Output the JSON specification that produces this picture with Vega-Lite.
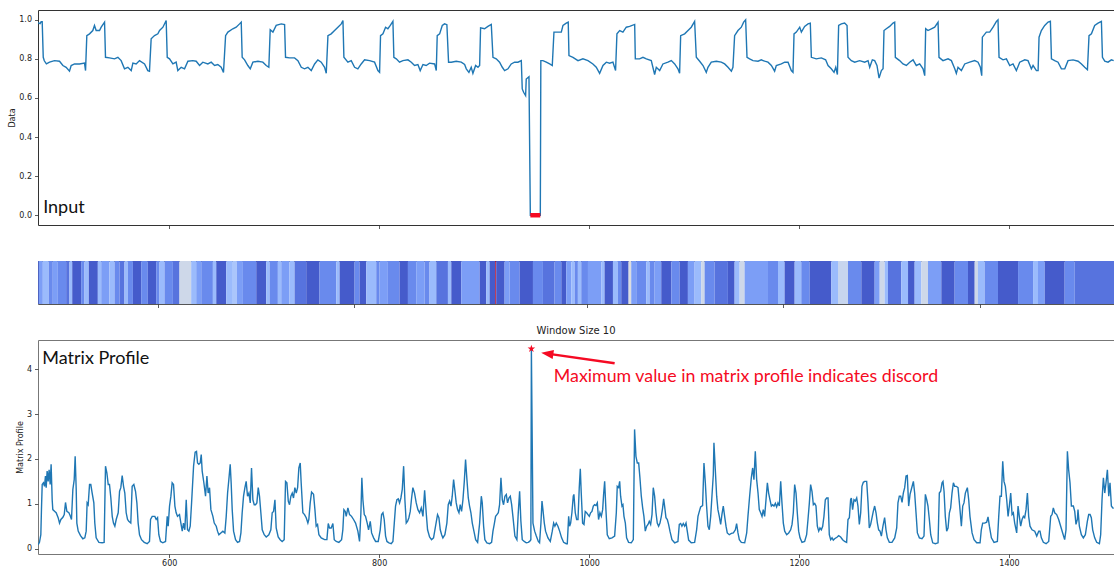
{
  "$schema": "https://vega.github.io/schema/vega-lite/v6.json",
  "background": "white",
  "padding": {"left": 8, "top": 9, "right": 0, "bottom": 0},
  "bounds": "flush",
  "spacing": 36,
  "config": {
    "view": {"stroke": "#333", "strokeWidth": 1},
    "axis": {"labelFont": "DejaVu Sans", "labelFontSize": 8, "labelColor": "#222", "titleFont": "DejaVu Sans", "titleFontSize": 8, "titleFontWeight": "normal", "titleColor": "#222", "tickColor": "#333", "tickSize": 3.5, "tickWidth": 0.8, "labelPadding": 2, "grid": false, "domain": false},
    "title": {"font": "DejaVu Sans", "fontSize": 10, "fontWeight": "normal", "color": "#222", "offset": 4}
  },
  "datasets": {
    "input": [
      {"idx":475,"data":0.985},{"idx":477,"data":0.98},{"idx":478,"data":0.99},{"idx":479,"data":0.99},{"idx":480,"data":0.808},{"idx":481,"data":0.79},{"idx":483,"data":0.774},{"idx":486,"data":0.783},{"idx":490.7,"data":0.791},{"idx":495.5,"data":0.788},{"idx":498.7,"data":0.766},{"idx":501.8,"data":0.757},{"idx":505,"data":0.737},{"idx":506.6,"data":0.766},{"idx":509.8,"data":0.774},{"idx":514.5,"data":0.774},{"idx":519.3,"data":0.778},{"idx":520.3,"data":0.74},{"idx":521.5,"data":0.919},{"idx":524.1,"data":0.928},{"idx":527.2,"data":0.945},{"idx":528.8,"data":0.971},{"idx":530.4,"data":0.945},{"idx":533.6,"data":0.945},{"idx":535.2,"data":0.962},{"idx":538.4,"data":0.988},{"idx":539.3,"data":0.808},{"idx":543.1,"data":0.805},{"idx":547.9,"data":0.8},{"idx":551.1,"data":0.808},{"idx":554.2,"data":0.791},{"idx":557.4,"data":0.749},{"idx":560.6,"data":0.757},{"idx":563.8,"data":0.74},{"idx":565.4,"data":0.778},{"idx":568.5,"data":0.774},{"idx":571.7,"data":0.791},{"idx":576.5,"data":0.774},{"idx":579.6,"data":0.74},{"idx":581.2,"data":0.737},{"idx":582.8,"data":0.903},{"idx":586,"data":0.919},{"idx":589.2,"data":0.928},{"idx":590.8,"data":0.945},{"idx":594,"data":0.962},{"idx":597.1,"data":0.996},{"idx":598.1,"data":0.808},{"idx":600.3,"data":0.8},{"idx":603.5,"data":0.774},{"idx":606.6,"data":0.783},{"idx":608.2,"data":0.74},{"idx":611.4,"data":0.757},{"idx":614.6,"data":0.749},{"idx":617.8,"data":0.788},{"idx":622.5,"data":0.791},{"idx":625.7,"data":0.788},{"idx":628.9,"data":0.766},{"idx":632,"data":0.783},{"idx":636.8,"data":0.774},{"idx":640,"data":0.783},{"idx":643.2,"data":0.766},{"idx":646.3,"data":0.771},{"idx":649.5,"data":0.757},{"idx":651.7,"data":0.731},{"idx":653.7,"data":0.919},{"idx":655.9,"data":0.937},{"idx":660.6,"data":0.954},{"idx":663.8,"data":0.962},{"idx":667,"data":0.979},{"idx":668.6,"data":0.988},{"idx":669.5,"data":0.808},{"idx":671.8,"data":0.795},{"idx":674.9,"data":0.766},{"idx":677.2,"data":0.749},{"idx":679.7,"data":0.783},{"idx":684.5,"data":0.788},{"idx":689.2,"data":0.783},{"idx":692.4,"data":0.766},{"idx":694.9,"data":0.757},{"idx":696.2,"data":0.949},{"idx":698.8,"data":0.937},{"idx":701.9,"data":0.971},{"idx":706.7,"data":0.979},{"idx":709.9,"data":0.975},{"idx":710.8,"data":0.808},{"idx":714.6,"data":0.805},{"idx":719.4,"data":0.805},{"idx":722.6,"data":0.791},{"idx":725.8,"data":0.757},{"idx":728.9,"data":0.749},{"idx":732.1,"data":0.757},{"idx":735.3,"data":0.74},{"idx":738.5,"data":0.774},{"idx":741.6,"data":0.795},{"idx":744.8,"data":0.783},{"idx":748,"data":0.757},{"idx":749.6,"data":0.726},{"idx":751.2,"data":0.919},{"idx":754.3,"data":0.928},{"idx":757.5,"data":0.945},{"idx":760.7,"data":0.962},{"idx":763.9,"data":0.979},{"idx":765.5,"data":0.996},{"idx":766.4,"data":0.808},{"idx":770.2,"data":0.783},{"idx":773.4,"data":0.791},{"idx":776.6,"data":0.757},{"idx":779.7,"data":0.749},{"idx":782.9,"data":0.774},{"idx":786.1,"data":0.795},{"idx":790.9,"data":0.791},{"idx":795.6,"data":0.783},{"idx":798.8,"data":0.74},{"idx":800.4,"data":0.731},{"idx":801.3,"data":0.919},{"idx":803.6,"data":0.928},{"idx":806.1,"data":0.962},{"idx":808.3,"data":0.954},{"idx":810.6,"data":0.971},{"idx":813.1,"data":0.992},{"idx":814,"data":0.808},{"idx":816.3,"data":0.8},{"idx":819.4,"data":0.783},{"idx":822.6,"data":0.791},{"idx":827.4,"data":0.795},{"idx":830.6,"data":0.783},{"idx":833.7,"data":0.766},{"idx":836.9,"data":0.771},{"idx":839.1,"data":0.74},{"idx":841.7,"data":0.771},{"idx":844.8,"data":0.766},{"idx":848,"data":0.778},{"idx":852.8,"data":0.774},{"idx":854.4,"data":0.74},{"idx":855.3,"data":0.919},{"idx":857.6,"data":0.928},{"idx":860.1,"data":0.971},{"idx":862.3,"data":0.979},{"idx":864.5,"data":0.975},{"idx":866.1,"data":0.783},{"idx":868.7,"data":0.783},{"idx":873.4,"data":0.788},{"idx":878.2,"data":0.783},{"idx":881.4,"data":0.771},{"idx":883,"data":0.749},{"idx":885.5,"data":0.731},{"idx":887.7,"data":0.757},{"idx":889.3,"data":0.726},{"idx":891.9,"data":0.766},{"idx":894.1,"data":0.757},{"idx":895.7,"data":0.766},{"idx":896.6,"data":0.959},{"idx":900.4,"data":0.954},{"idx":903.6,"data":0.966},{"idx":906.8,"data":0.976},{"idx":908.4,"data":0.808},{"idx":911.5,"data":0.8},{"idx":914.7,"data":0.783},{"idx":917.3,"data":0.757},{"idx":919.5,"data":0.74},{"idx":922.7,"data":0.749},{"idx":925.8,"data":0.774},{"idx":929,"data":0.783},{"idx":932.2,"data":0.783},{"idx":935.4,"data":0.791},{"idx":936.3,"data":0.646},{"idx":937.6,"data":0.629},{"idx":939.5,"data":0.612},{"idx":940.1,"data":0.697},{"idx":942.7,"data":0.709},{"idx":944,"data":0},{"idx":953.5,"data":0},{"idx":954,"data":0.791},{"idx":956,"data":0.791},{"idx":959.2,"data":0.783},{"idx":962.4,"data":0.774},{"idx":964.9,"data":0.766},{"idx":966.5,"data":0.937},{"idx":968.7,"data":0.937},{"idx":973.5,"data":0.937},{"idx":975.1,"data":0.971},{"idx":978.2,"data":0.983},{"idx":980.1,"data":0.988},{"idx":980.8,"data":0.817},{"idx":984.6,"data":0.808},{"idx":989.4,"data":0.791},{"idx":994.1,"data":0.8},{"idx":998.9,"data":0.791},{"idx":1003.6,"data":0.774},{"idx":1006.8,"data":0.757},{"idx":1010,"data":0.726},{"idx":1013.2,"data":0.766},{"idx":1016.4,"data":0.783},{"idx":1019.5,"data":0.778},{"idx":1022.7,"data":0.783},{"idx":1025.2,"data":0.74},{"idx":1026.5,"data":0.928},{"idx":1029.1,"data":0.945},{"idx":1032.2,"data":0.937},{"idx":1035.4,"data":0.962},{"idx":1038.6,"data":0.966},{"idx":1043.4,"data":0.976},{"idx":1044,"data":0.8},{"idx":1048.1,"data":0.8},{"idx":1051.3,"data":0.808},{"idx":1054.5,"data":0.8},{"idx":1059.2,"data":0.791},{"idx":1062.4,"data":0.72},{"idx":1064,"data":0.757},{"idx":1067.2,"data":0.74},{"idx":1070.3,"data":0.774},{"idx":1075.1,"data":0.783},{"idx":1078.3,"data":0.791},{"idx":1081.5,"data":0.774},{"idx":1084.6,"data":0.749},{"idx":1086.2,"data":0.726},{"idx":1087.2,"data":0.919},{"idx":1091,"data":0.928},{"idx":1094.2,"data":0.945},{"idx":1097.3,"data":0.962},{"idx":1100.5,"data":0.992},{"idx":1102.1,"data":0.808},{"idx":1105.3,"data":0.788},{"idx":1108.5,"data":0.766},{"idx":1111.6,"data":0.731},{"idx":1113.2,"data":0.757},{"idx":1116.4,"data":0.783},{"idx":1121.2,"data":0.788},{"idx":1125.9,"data":0.783},{"idx":1129.1,"data":0.774},{"idx":1132.3,"data":0.757},{"idx":1135.5,"data":0.737},{"idx":1137,"data":0.757},{"idx":1138.6,"data":0.919},{"idx":1141.8,"data":0.945},{"idx":1145,"data":0.962},{"idx":1147.2,"data":0.988},{"idx":1149.1,"data":1.0},{"idx":1150.4,"data":0.808},{"idx":1152.9,"data":0.8},{"idx":1156.1,"data":0.791},{"idx":1160.9,"data":0.788},{"idx":1164,"data":0.795},{"idx":1167.2,"data":0.788},{"idx":1170.4,"data":0.783},{"idx":1173.6,"data":0.766},{"idx":1176.7,"data":0.737},{"idx":1178.3,"data":0.766},{"idx":1183.1,"data":0.774},{"idx":1186.3,"data":0.783},{"idx":1189.5,"data":0.783},{"idx":1192.6,"data":0.74},{"idx":1194.2,"data":0.731},{"idx":1195.2,"data":0.928},{"idx":1197.4,"data":0.937},{"idx":1200.6,"data":0.962},{"idx":1202.2,"data":0.937},{"idx":1205.3,"data":0.966},{"idx":1208.5,"data":0.979},{"idx":1210.7,"data":0.983},{"idx":1211.7,"data":0.808},{"idx":1216.4,"data":0.8},{"idx":1221.2,"data":0.805},{"idx":1225.3,"data":0.795},{"idx":1227.6,"data":0.766},{"idx":1230.7,"data":0.749},{"idx":1233.3,"data":0.731},{"idx":1234.9,"data":0.757},{"idx":1236.5,"data":0.72},{"idx":1237.7,"data":0.971},{"idx":1240.3,"data":0.979},{"idx":1243.4,"data":0.983},{"idx":1245.7,"data":0.971},{"idx":1246.6,"data":0.808},{"idx":1249.8,"data":0.791},{"idx":1253,"data":0.783},{"idx":1257.7,"data":0.791},{"idx":1262.5,"data":0.783},{"idx":1265.7,"data":0.791},{"idx":1267.3,"data":0.757},{"idx":1269.8,"data":0.795},{"idx":1272,"data":0.791},{"idx":1274.2,"data":0.766},{"idx":1276.2,"data":0.702},{"idx":1278.4,"data":0.74},{"idx":1280,"data":0.749},{"idx":1280.9,"data":0.945},{"idx":1283.1,"data":0.954},{"idx":1286.3,"data":0.966},{"idx":1289.5,"data":0.983},{"idx":1291.1,"data":0.988},{"idx":1291.7,"data":0.808},{"idx":1295.8,"data":0.791},{"idx":1299,"data":0.774},{"idx":1302.2,"data":0.766},{"idx":1305.4,"data":0.783},{"idx":1308.6,"data":0.795},{"idx":1311.7,"data":0.766},{"idx":1314.9,"data":0.774},{"idx":1318.1,"data":0.749},{"idx":1319.7,"data":0.714},{"idx":1320.6,"data":0.954},{"idx":1322.8,"data":0.945},{"idx":1326,"data":0.954},{"idx":1329.2,"data":0.962},{"idx":1332.4,"data":0.988},{"idx":1333.3,"data":0.808},{"idx":1337.1,"data":0.791},{"idx":1341.9,"data":0.8},{"idx":1345.1,"data":0.791},{"idx":1348.3,"data":0.749},{"idx":1349.8,"data":0.726},{"idx":1351.4,"data":0.757},{"idx":1354.6,"data":0.74},{"idx":1357.8,"data":0.774},{"idx":1362.5,"data":0.783},{"idx":1367.3,"data":0.791},{"idx":1370.5,"data":0.783},{"idx":1372.7,"data":0.757},{"idx":1374,"data":0.714},{"idx":1374.6,"data":0.911},{"idx":1378.4,"data":0.937},{"idx":1381.6,"data":0.937},{"idx":1384.8,"data":0.962},{"idx":1388,"data":0.992},{"idx":1389.5,"data":1.0},{"idx":1390.5,"data":0.808},{"idx":1394.3,"data":0.795},{"idx":1397.5,"data":0.8},{"idx":1400.7,"data":0.766},{"idx":1403.8,"data":0.774},{"idx":1407,"data":0.74},{"idx":1410.2,"data":0.783},{"idx":1415,"data":0.795},{"idx":1418.1,"data":0.791},{"idx":1421.3,"data":0.749},{"idx":1422.9,"data":0.766},{"idx":1426.1,"data":0.74},{"idx":1427.7,"data":0.74},{"idx":1428.6,"data":0.911},{"idx":1430.8,"data":0.945},{"idx":1434,"data":0.971},{"idx":1437.2,"data":0.988},{"idx":1439.4,"data":0.992},{"idx":1440.4,"data":0.8},{"idx":1443.5,"data":0.791},{"idx":1446.7,"data":0.783},{"idx":1449.9,"data":0.749},{"idx":1453.1,"data":0.749},{"idx":1456.2,"data":0.791},{"idx":1461,"data":0.795},{"idx":1465.8,"data":0.788},{"idx":1469,"data":0.774},{"idx":1472.1,"data":0.757},{"idx":1474.7,"data":0.744},{"idx":1476.2,"data":0.919},{"idx":1478.5,"data":0.928},{"idx":1481.6,"data":0.971},{"idx":1484.8,"data":0.983},{"idx":1488,"data":0.992},{"idx":1489,"data":0.808},{"idx":1491.2,"data":0.788},{"idx":1494.3,"data":0.783},{"idx":1497.5,"data":0.795},{"idx":1499.7,"data":0.791}
    ],
    "discord": [{"idx":944,"data":0},{"idx":953.5,"data":0}],
    "mp": [
      {"idx":475.2,"mp":0.09},{"idx":476.4,"mp":0.14},{"idx":477.7,"mp":0.31},{"idx":478.3,"mp":0.87},{"idx":479,"mp":1.43},{"idx":480.2,"mp":1.47},{"idx":481.2,"mp":1.39},{"idx":482.1,"mp":1.62},{"idx":482.8,"mp":1.36},{"idx":483.7,"mp":1.73},{"idx":484.7,"mp":1.5},{"idx":485.6,"mp":1.76},{"idx":486.6,"mp":1.43},{"idx":487.5,"mp":1.88},{"idx":488.5,"mp":1.09},{"idx":489.1,"mp":0.87},{"idx":491,"mp":0.83},{"idx":492.3,"mp":0.8},{"idx":494.2,"mp":0.69},{"idx":495.5,"mp":0.57},{"idx":496.8,"mp":0.65},{"idx":498.7,"mp":0.7},{"idx":500,"mp":0.76},{"idx":501.2,"mp":1.03},{"idx":502.5,"mp":0.83},{"idx":504.4,"mp":0.8},{"idx":505.6,"mp":0.74},{"idx":506.9,"mp":0.65},{"idx":508.2,"mp":1.32},{"idx":509.5,"mp":1.54},{"idx":510.4,"mp":2.06},{"idx":511.4,"mp":1.32},{"idx":512,"mp":0.57},{"idx":513.3,"mp":0.39},{"idx":515.5,"mp":0.29},{"idx":517.7,"mp":0.22},{"idx":519.6,"mp":0.24},{"idx":520.9,"mp":0.39},{"idx":521.8,"mp":1.02},{"idx":522.8,"mp":0.98},{"idx":524.1,"mp":1.43},{"idx":525.3,"mp":1.43},{"idx":526.6,"mp":1.24},{"idx":528.2,"mp":1.02},{"idx":529.1,"mp":0.57},{"idx":530.4,"mp":0.24},{"idx":533,"mp":0.14},{"idx":536.1,"mp":0.13},{"idx":538,"mp":0.14},{"idx":539.3,"mp":1.84},{"idx":540.6,"mp":1.69},{"idx":541.9,"mp":1.43},{"idx":543.1,"mp":1.43},{"idx":544.4,"mp":1.13},{"idx":545.7,"mp":0.72},{"idx":546.9,"mp":0.57},{"idx":548.2,"mp":0.5},{"idx":549.5,"mp":0.65},{"idx":551.4,"mp":0.8},{"idx":552.7,"mp":1.28},{"idx":553.9,"mp":1.36},{"idx":555.2,"mp":1.63},{"idx":556.5,"mp":1.39},{"idx":557.7,"mp":1.24},{"idx":559,"mp":0.8},{"idx":560.3,"mp":0.65},{"idx":561.5,"mp":0.61},{"idx":563.4,"mp":0.57},{"idx":564.7,"mp":1.39},{"idx":566.3,"mp":1.43},{"idx":567.9,"mp":1.28},{"idx":569.2,"mp":1.02},{"idx":570.4,"mp":0.57},{"idx":571.7,"mp":0.31},{"idx":573.6,"mp":0.2},{"idx":576.2,"mp":0.14},{"idx":579,"mp":0.11},{"idx":581.2,"mp":0.16},{"idx":582.2,"mp":0.65},{"idx":583.8,"mp":0.72},{"idx":586.3,"mp":0.72},{"idx":587.6,"mp":0.65},{"idx":588.9,"mp":0.69},{"idx":590.1,"mp":0.31},{"idx":591.7,"mp":0.16},{"idx":593.9,"mp":0.13},{"idx":596.5,"mp":0.16},{"idx":598.1,"mp":0.72},{"idx":599,"mp":0.5},{"idx":600.3,"mp":0.95},{"idx":601.6,"mp":1.17},{"idx":602.8,"mp":1.47},{"idx":604.1,"mp":1.43},{"idx":605.4,"mp":0.95},{"idx":606.6,"mp":0.8},{"idx":607.9,"mp":0.72},{"idx":609.8,"mp":0.76},{"idx":611.1,"mp":0.57},{"idx":612.4,"mp":0.39},{"idx":613.6,"mp":0.57},{"idx":614.9,"mp":0.42},{"idx":616.2,"mp":1.09},{"idx":617.4,"mp":0.42},{"idx":618.7,"mp":0.39},{"idx":620,"mp":0.5},{"idx":621.3,"mp":1.02},{"idx":623.2,"mp":1.84},{"idx":624.7,"mp":2.15},{"idx":626,"mp":2.17},{"idx":627,"mp":1.91},{"idx":628.2,"mp":1.88},{"idx":629.5,"mp":1.91},{"idx":630.5,"mp":2.1},{"idx":631.4,"mp":1.73},{"idx":633,"mp":1.47},{"idx":634.6,"mp":1.17},{"idx":635.9,"mp":1.62},{"idx":637.1,"mp":1.24},{"idx":638.4,"mp":1.36},{"idx":639.7,"mp":0.87},{"idx":641.6,"mp":0.72},{"idx":642.9,"mp":0.57},{"idx":644.8,"mp":0.5},{"idx":646,"mp":0.39},{"idx":647.3,"mp":0.31},{"idx":649.2,"mp":0.35},{"idx":651.1,"mp":0.39},{"idx":653,"mp":0.35},{"idx":654.3,"mp":0.72},{"idx":655.6,"mp":1.24},{"idx":656.8,"mp":1.54},{"idx":658.1,"mp":1.88},{"idx":659,"mp":1.47},{"idx":660,"mp":0.87},{"idx":661.3,"mp":0.39},{"idx":663.2,"mp":0.2},{"idx":665.1,"mp":0.14},{"idx":667,"mp":0.16},{"idx":668.3,"mp":0.35},{"idx":669.5,"mp":0.8},{"idx":670.8,"mp":1.17},{"idx":672.1,"mp":1.36},{"idx":673.3,"mp":1.5},{"idx":674.6,"mp":1.17},{"idx":675.9,"mp":1.24},{"idx":677.2,"mp":1.02},{"idx":678.4,"mp":1.8},{"idx":679.7,"mp":1.09},{"idx":681,"mp":0.98},{"idx":682.2,"mp":0.98},{"idx":683.5,"mp":1.02},{"idx":684.8,"mp":1.36},{"idx":686,"mp":1.17},{"idx":687.3,"mp":0.8},{"idx":688.6,"mp":0.42},{"idx":690.5,"mp":0.31},{"idx":692.4,"mp":0.26},{"idx":694.9,"mp":0.31},{"idx":696.8,"mp":0.42},{"idx":698.1,"mp":0.8},{"idx":699.4,"mp":0.83},{"idx":700.7,"mp":1.09},{"idx":701.9,"mp":0.46},{"idx":703.8,"mp":0.26},{"idx":705.7,"mp":0.2},{"idx":707.6,"mp":0.16},{"idx":709.5,"mp":0.2},{"idx":710.8,"mp":1.5},{"idx":712.1,"mp":1.47},{"idx":713.4,"mp":1.06},{"idx":714.6,"mp":0.98},{"idx":715.9,"mp":1.17},{"idx":717.2,"mp":1.24},{"idx":718.4,"mp":1.13},{"idx":719.7,"mp":1.36},{"idx":721,"mp":1.24},{"idx":722.3,"mp":1.36},{"idx":723.5,"mp":1.8},{"idx":724.8,"mp":1.91},{"idx":725.7,"mp":1.47},{"idx":727.3,"mp":0.8},{"idx":728.9,"mp":0.76},{"idx":730.5,"mp":0.69},{"idx":732.1,"mp":0.57},{"idx":733,"mp":0.65},{"idx":734.3,"mp":1.02},{"idx":735.6,"mp":1.26},{"idx":737.5,"mp":1.21},{"idx":738.8,"mp":0.87},{"idx":740,"mp":0.5},{"idx":741.3,"mp":0.54},{"idx":742.6,"mp":0.31},{"idx":744.8,"mp":0.24},{"idx":748,"mp":0.2},{"idx":750.2,"mp":0.2},{"idx":751.5,"mp":0.56},{"idx":752.7,"mp":0.46},{"idx":754.3,"mp":0.46},{"idx":755.9,"mp":0.56},{"idx":757.2,"mp":0.2},{"idx":759.1,"mp":0.16},{"idx":761.6,"mp":0.14},{"idx":764.2,"mp":0.2},{"idx":765.4,"mp":0.42},{"idx":766.4,"mp":0.87},{"idx":767.7,"mp":0.83},{"idx":768.6,"mp":0.72},{"idx":770.2,"mp":0.91},{"idx":771.8,"mp":0.76},{"idx":773.7,"mp":0.72},{"idx":775.6,"mp":0.65},{"idx":777.5,"mp":0.57},{"idx":779.7,"mp":0.39},{"idx":781.3,"mp":0.16},{"idx":782.6,"mp":0.8},{"idx":783.5,"mp":1.58},{"idx":784.5,"mp":1.09},{"idx":785.8,"mp":0.76},{"idx":787,"mp":0.72},{"idx":788.6,"mp":0.57},{"idx":789.9,"mp":0.42},{"idx":791.5,"mp":0.61},{"idx":792.8,"mp":0.35},{"idx":794.7,"mp":0.24},{"idx":796.6,"mp":0.16},{"idx":799.1,"mp":0.16},{"idx":801,"mp":0.42},{"idx":802.3,"mp":0.76},{"idx":803.6,"mp":0.8},{"idx":804.8,"mp":0.65},{"idx":806.1,"mp":0.28},{"idx":807.4,"mp":0.16},{"idx":809.3,"mp":0.13},{"idx":811.5,"mp":0.11},{"idx":813.1,"mp":0.16},{"idx":814.4,"mp":0.57},{"idx":815.6,"mp":0.95},{"idx":816.9,"mp":1.09},{"idx":818.2,"mp":1.11},{"idx":819.4,"mp":1.02},{"idx":820.7,"mp":1.13},{"idx":822,"mp":1.32},{"idx":823.3,"mp":1.84},{"idx":824.5,"mp":1.09},{"idx":825.8,"mp":0.57},{"idx":827.1,"mp":0.61},{"idx":828.3,"mp":0.69},{"idx":829.6,"mp":0.83},{"idx":830.9,"mp":1.13},{"idx":832.1,"mp":1.36},{"idx":833.7,"mp":1.24},{"idx":835.3,"mp":1.02},{"idx":836.9,"mp":0.87},{"idx":838.5,"mp":0.8},{"idx":840.1,"mp":0.91},{"idx":841.7,"mp":0.72},{"idx":843.3,"mp":1.3},{"idx":844.8,"mp":0.8},{"idx":846.1,"mp":0.42},{"idx":848,"mp":0.26},{"idx":849.9,"mp":0.2},{"idx":851.8,"mp":0.24},{"idx":853.7,"mp":0.5},{"idx":855.6,"mp":0.76},{"idx":856.9,"mp":0.69},{"idx":858.2,"mp":0.42},{"idx":859.5,"mp":0.31},{"idx":860.7,"mp":0.24},{"idx":862.6,"mp":0.31},{"idx":864.5,"mp":0.57},{"idx":865.8,"mp":0.98},{"idx":867.1,"mp":1.06},{"idx":868.4,"mp":0.95},{"idx":869.6,"mp":1.17},{"idx":870.9,"mp":1.54},{"idx":872.2,"mp":1.28},{"idx":873.4,"mp":1.02},{"idx":874.7,"mp":0.87},{"idx":876,"mp":0.8},{"idx":877.2,"mp":0.98},{"idx":878.5,"mp":0.83},{"idx":879.8,"mp":1.09},{"idx":881.1,"mp":1.5},{"idx":882.3,"mp":1.99},{"idx":883.6,"mp":1.54},{"idx":884.9,"mp":1.13},{"idx":886.1,"mp":0.95},{"idx":887.4,"mp":0.8},{"idx":888.7,"mp":0.57},{"idx":890.6,"mp":0.35},{"idx":891.9,"mp":0.2},{"idx":893.8,"mp":0.14},{"idx":895.7,"mp":0.57},{"idx":897.3,"mp":1.17},{"idx":898.2,"mp":1.02},{"idx":899.5,"mp":0.5},{"idx":900.7,"mp":0.2},{"idx":902.6,"mp":0.13},{"idx":905.2,"mp":0.11},{"idx":907.1,"mp":0.14},{"idx":908.4,"mp":0.39},{"idx":909.6,"mp":0.54},{"idx":910.9,"mp":0.72},{"idx":912.2,"mp":0.76},{"idx":913.5,"mp":0.8},{"idx":914.7,"mp":0.98},{"idx":916,"mp":1.58},{"idx":917.3,"mp":1.09},{"idx":918.5,"mp":0.98},{"idx":919.8,"mp":1.17},{"idx":921.1,"mp":1.21},{"idx":922.3,"mp":1.02},{"idx":923.6,"mp":1.13},{"idx":924.9,"mp":1.17},{"idx":926.2,"mp":0.98},{"idx":927.4,"mp":0.72},{"idx":929.3,"mp":0.28},{"idx":931.2,"mp":0.2},{"idx":932.5,"mp":0.8},{"idx":933.8,"mp":1.28},{"idx":935,"mp":0.61},{"idx":936.3,"mp":0.2},{"idx":938.2,"mp":0.16},{"idx":940.1,"mp":0.13},{"idx":942,"mp":0.14},{"idx":943.3,"mp":0.16},{"idx":944.5,"mp":0.2},{"idx":945,"mp":4.46},{"idx":946.5,"mp":0.57},{"idx":948.1,"mp":0.39},{"idx":949.7,"mp":0.28},{"idx":951.6,"mp":0.16},{"idx":952.8,"mp":0.13},{"idx":954.1,"mp":0.57},{"idx":955.1,"mp":1.06},{"idx":956,"mp":0.87},{"idx":957.3,"mp":0.57},{"idx":958.5,"mp":0.39},{"idx":960.8,"mp":0.24},{"idx":963,"mp":0.16},{"idx":964.9,"mp":0.39},{"idx":966.2,"mp":0.57},{"idx":967.4,"mp":0.5},{"idx":968.7,"mp":0.57},{"idx":970.3,"mp":0.5},{"idx":971.9,"mp":0.39},{"idx":973.8,"mp":0.24},{"idx":975.7,"mp":0.14},{"idx":978.2,"mp":0.11},{"idx":979.2,"mp":0.11},{"idx":980.5,"mp":0.72},{"idx":981.4,"mp":0.5},{"idx":982.4,"mp":0.57},{"idx":983.6,"mp":0.8},{"idx":984.9,"mp":1.17},{"idx":985.5,"mp":1.21},{"idx":986.8,"mp":0.8},{"idx":988.1,"mp":0.65},{"idx":989.4,"mp":0.65},{"idx":990.6,"mp":1.36},{"idx":991.6,"mp":1.78},{"idx":992.5,"mp":1.24},{"idx":993.8,"mp":0.57},{"idx":995.1,"mp":0.54},{"idx":996.3,"mp":0.83},{"idx":997.6,"mp":0.8},{"idx":998.9,"mp":0.76},{"idx":1000.2,"mp":0.72},{"idx":1001.4,"mp":0.8},{"idx":1002.7,"mp":0.83},{"idx":1004,"mp":0.95},{"idx":1005.2,"mp":0.98},{"idx":1006.5,"mp":0.96},{"idx":1007.8,"mp":1.02},{"idx":1009,"mp":0.65},{"idx":1010.3,"mp":0.8},{"idx":1011.6,"mp":0.72},{"idx":1012.9,"mp":0.87},{"idx":1013.8,"mp":1.21},{"idx":1014.8,"mp":1.5},{"idx":1016,"mp":0.87},{"idx":1017.3,"mp":0.31},{"idx":1019.2,"mp":0.22},{"idx":1021.8,"mp":0.24},{"idx":1024.3,"mp":0.28},{"idx":1025.9,"mp":0.8},{"idx":1026.8,"mp":1.39},{"idx":1028.1,"mp":1.36},{"idx":1029.1,"mp":1.5},{"idx":1030,"mp":1.17},{"idx":1031.3,"mp":0.95},{"idx":1032.2,"mp":0.98},{"idx":1033.2,"mp":0.72},{"idx":1034.5,"mp":0.57},{"idx":1035.7,"mp":0.24},{"idx":1037.6,"mp":0.14},{"idx":1040.2,"mp":0.13},{"idx":1042.1,"mp":0.2},{"idx":1043.3,"mp":2.66},{"idx":1044.6,"mp":2.06},{"idx":1045.9,"mp":1.91},{"idx":1047.2,"mp":1.91},{"idx":1048.4,"mp":1.58},{"idx":1049.7,"mp":1.17},{"idx":1051,"mp":0.91},{"idx":1052.2,"mp":0.72},{"idx":1053.5,"mp":0.39},{"idx":1054.8,"mp":0.5},{"idx":1056.1,"mp":0.54},{"idx":1057.3,"mp":0.61},{"idx":1058.6,"mp":0.54},{"idx":1059.9,"mp":0.76},{"idx":1061.1,"mp":1.36},{"idx":1062.4,"mp":1.17},{"idx":1063.7,"mp":0.8},{"idx":1064.9,"mp":0.57},{"idx":1066.2,"mp":0.5},{"idx":1067.5,"mp":0.57},{"idx":1068.8,"mp":0.72},{"idx":1070,"mp":0.91},{"idx":1071,"mp":1.11},{"idx":1071.9,"mp":0.95},{"idx":1073.2,"mp":0.69},{"idx":1074.5,"mp":0.65},{"idx":1075.7,"mp":0.54},{"idx":1077,"mp":0.39},{"idx":1078.9,"mp":0.2},{"idx":1081.5,"mp":0.13},{"idx":1084.6,"mp":0.16},{"idx":1085.9,"mp":0.54},{"idx":1087.2,"mp":0.56},{"idx":1088.4,"mp":0.5},{"idx":1089.7,"mp":0.56},{"idx":1091,"mp":0.5},{"idx":1092.3,"mp":0.57},{"idx":1093.5,"mp":0.39},{"idx":1094.8,"mp":0.19},{"idx":1097.3,"mp":0.13},{"idx":1100.5,"mp":0.14},{"idx":1102.4,"mp":0.42},{"idx":1103.7,"mp":0.72},{"idx":1105,"mp":0.83},{"idx":1106.2,"mp":0.93},{"idx":1108.1,"mp":0.96},{"idx":1109.4,"mp":1.91},{"idx":1110.7,"mp":1.47},{"idx":1111.9,"mp":0.95},{"idx":1113.2,"mp":0.5},{"idx":1114.5,"mp":0.42},{"idx":1115.8,"mp":0.72},{"idx":1117,"mp":1.17},{"idx":1118.3,"mp":1.65},{"idx":1118.9,"mp":2.36},{"idx":1120.2,"mp":1.76},{"idx":1121.5,"mp":1.17},{"idx":1122.7,"mp":0.87},{"idx":1124,"mp":0.72},{"idx":1125.3,"mp":0.54},{"idx":1126.5,"mp":0.76},{"idx":1127.8,"mp":0.95},{"idx":1129.1,"mp":0.72},{"idx":1130.4,"mp":0.5},{"idx":1131.6,"mp":0.35},{"idx":1133.5,"mp":0.31},{"idx":1135.5,"mp":0.34},{"idx":1137.4,"mp":0.35},{"idx":1139.3,"mp":0.42},{"idx":1140.5,"mp":0.56},{"idx":1141.8,"mp":0.35},{"idx":1143.1,"mp":0.2},{"idx":1145,"mp":0.14},{"idx":1148.2,"mp":0.13},{"idx":1150.1,"mp":0.35},{"idx":1151.3,"mp":0.72},{"idx":1152.9,"mp":1.17},{"idx":1154.5,"mp":1.58},{"idx":1155.8,"mp":1.8},{"idx":1157,"mp":1.54},{"idx":1158.3,"mp":2.17},{"idx":1159.6,"mp":1.54},{"idx":1160.9,"mp":1.24},{"idx":1162.1,"mp":0.87},{"idx":1163.4,"mp":0.8},{"idx":1164.7,"mp":0.72},{"idx":1165.9,"mp":0.87},{"idx":1167.2,"mp":0.72},{"idx":1168.5,"mp":1.09},{"idx":1169.8,"mp":1.47},{"idx":1171,"mp":1.24},{"idx":1172.3,"mp":1.09},{"idx":1173.6,"mp":0.95},{"idx":1174.8,"mp":0.98},{"idx":1176.1,"mp":0.95},{"idx":1177.4,"mp":1.01},{"idx":1178.6,"mp":0.93},{"idx":1179.9,"mp":1.02},{"idx":1181.2,"mp":0.95},{"idx":1182.5,"mp":1.5},{"idx":1183.7,"mp":1.02},{"idx":1185,"mp":0.57},{"idx":1186.3,"mp":0.39},{"idx":1188.2,"mp":0.31},{"idx":1190.1,"mp":0.35},{"idx":1192,"mp":0.42},{"idx":1193.3,"mp":0.54},{"idx":1194.5,"mp":0.8},{"idx":1195.8,"mp":1.43},{"idx":1197.1,"mp":1.24},{"idx":1198.3,"mp":0.8},{"idx":1199.6,"mp":0.39},{"idx":1200.9,"mp":0.24},{"idx":1202.8,"mp":0.14},{"idx":1205.3,"mp":0.16},{"idx":1207.2,"mp":0.31},{"idx":1208.5,"mp":0.65},{"idx":1209.8,"mp":1.02},{"idx":1211,"mp":1.43},{"idx":1212.3,"mp":1.28},{"idx":1213.6,"mp":0.98},{"idx":1214.9,"mp":1.01},{"idx":1216.1,"mp":0.95},{"idx":1217.4,"mp":0.5},{"idx":1218.7,"mp":0.39},{"idx":1219.9,"mp":0.46},{"idx":1221.2,"mp":0.42},{"idx":1222.5,"mp":0.5},{"idx":1223.7,"mp":0.72},{"idx":1225,"mp":1.09},{"idx":1226.3,"mp":1.13},{"idx":1227.6,"mp":1.13},{"idx":1228.8,"mp":0.31},{"idx":1230.1,"mp":0.2},{"idx":1231.4,"mp":0.24},{"idx":1232.6,"mp":0.19},{"idx":1233.9,"mp":0.22},{"idx":1236.4,"mp":0.26},{"idx":1237.7,"mp":0.29},{"idx":1239.6,"mp":0.26},{"idx":1241.5,"mp":0.2},{"idx":1243.4,"mp":0.16},{"idx":1245.3,"mp":0.14},{"idx":1246.6,"mp":0.65},{"idx":1247.9,"mp":0.69},{"idx":1249.1,"mp":1.09},{"idx":1249.8,"mp":1.13},{"idx":1251,"mp":0.87},{"idx":1252.3,"mp":1.09},{"idx":1253.6,"mp":1.06},{"idx":1254.9,"mp":1.13},{"idx":1256.1,"mp":0.95},{"idx":1257.4,"mp":0.54},{"idx":1258.7,"mp":0.8},{"idx":1259.9,"mp":1.39},{"idx":1261.2,"mp":1.48},{"idx":1262.5,"mp":1.5},{"idx":1264.4,"mp":1.5},{"idx":1265.7,"mp":1.02},{"idx":1266.9,"mp":0.46},{"idx":1268.2,"mp":0.54},{"idx":1269.5,"mp":0.69},{"idx":1270.7,"mp":0.83},{"idx":1272,"mp":0.95},{"idx":1273.3,"mp":0.8},{"idx":1274.6,"mp":0.57},{"idx":1275.8,"mp":0.42},{"idx":1277.1,"mp":0.39},{"idx":1278.4,"mp":0.28},{"idx":1279.9,"mp":0.5},{"idx":1281.5,"mp":0.69},{"idx":1282.8,"mp":0.42},{"idx":1284.1,"mp":0.24},{"idx":1286,"mp":0.14},{"idx":1288.5,"mp":0.14},{"idx":1291.1,"mp":0.24},{"idx":1293,"mp":0.46},{"idx":1294.2,"mp":1.02},{"idx":1295.5,"mp":1.17},{"idx":1296.8,"mp":1.17},{"idx":1298.1,"mp":1.03},{"idx":1299.3,"mp":1.24},{"idx":1300.6,"mp":1.36},{"idx":1301.9,"mp":1.62},{"idx":1303.1,"mp":1.63},{"idx":1304.4,"mp":0.95},{"idx":1305.7,"mp":1.21},{"idx":1306.9,"mp":1.32},{"idx":1308.9,"mp":1.5},{"idx":1310.1,"mp":1.24},{"idx":1311.4,"mp":0.8},{"idx":1312.7,"mp":0.35},{"idx":1314.6,"mp":0.24},{"idx":1317.1,"mp":0.22},{"idx":1319,"mp":0.28},{"idx":1320.3,"mp":1.21},{"idx":1321.6,"mp":1.09},{"idx":1322.8,"mp":0.95},{"idx":1324.1,"mp":0.65},{"idx":1325.4,"mp":0.31},{"idx":1327.3,"mp":0.13},{"idx":1329.8,"mp":0.11},{"idx":1332.4,"mp":0.13},{"idx":1333.6,"mp":1.24},{"idx":1334.9,"mp":1.28},{"idx":1336.2,"mp":1.47},{"idx":1337.1,"mp":1.5},{"idx":1338.1,"mp":1.28},{"idx":1339.3,"mp":0.72},{"idx":1340.6,"mp":0.39},{"idx":1341.9,"mp":0.46},{"idx":1343.2,"mp":0.8},{"idx":1344.4,"mp":0.91},{"idx":1345.7,"mp":1.24},{"idx":1347,"mp":1.47},{"idx":1348.2,"mp":1.39},{"idx":1349.8,"mp":1.39},{"idx":1351.4,"mp":1.36},{"idx":1353,"mp":0.95},{"idx":1354.6,"mp":0.5},{"idx":1355.9,"mp":0.95},{"idx":1357.1,"mp":1.02},{"idx":1358.4,"mp":1.24},{"idx":1360.3,"mp":1.36},{"idx":1361.6,"mp":1.09},{"idx":1362.8,"mp":0.72},{"idx":1364.8,"mp":0.35},{"idx":1366.7,"mp":0.2},{"idx":1369.2,"mp":0.13},{"idx":1372.4,"mp":0.13},{"idx":1373.6,"mp":0.42},{"idx":1374.9,"mp":0.57},{"idx":1376.8,"mp":0.57},{"idx":1378.7,"mp":0.59},{"idx":1380,"mp":0.71},{"idx":1381.3,"mp":0.5},{"idx":1383.2,"mp":0.24},{"idx":1385.7,"mp":0.14},{"idx":1388.9,"mp":0.16},{"idx":1390.2,"mp":0.72},{"idx":1391.4,"mp":1.17},{"idx":1392.7,"mp":1.17},{"idx":1394,"mp":1.95},{"idx":1395.2,"mp":1.5},{"idx":1396.5,"mp":1.39},{"idx":1397.8,"mp":1.09},{"idx":1399.1,"mp":0.72},{"idx":1400.3,"mp":0.95},{"idx":1401.6,"mp":1.24},{"idx":1402.9,"mp":0.76},{"idx":1404.1,"mp":0.8},{"idx":1405.4,"mp":0.57},{"idx":1407.3,"mp":0.35},{"idx":1408.6,"mp":0.95},{"idx":1409.8,"mp":0.72},{"idx":1411.1,"mp":0.5},{"idx":1412.4,"mp":0.65},{"idx":1413.7,"mp":0.72},{"idx":1414.9,"mp":0.69},{"idx":1416.2,"mp":0.87},{"idx":1417.5,"mp":1.24},{"idx":1418.7,"mp":0.72},{"idx":1420,"mp":0.5},{"idx":1421.9,"mp":0.42},{"idx":1424.5,"mp":0.39},{"idx":1426.4,"mp":0.28},{"idx":1428.3,"mp":0.39},{"idx":1429.5,"mp":0.39},{"idx":1430.8,"mp":0.24},{"idx":1432.7,"mp":0.14},{"idx":1435.3,"mp":0.11},{"idx":1437.8,"mp":0.16},{"idx":1439.7,"mp":0.72},{"idx":1441,"mp":0.76},{"idx":1442.2,"mp":0.91},{"idx":1443.5,"mp":0.8},{"idx":1445.4,"mp":0.76},{"idx":1447.3,"mp":0.65},{"idx":1449.2,"mp":0.5},{"idx":1451.1,"mp":0.35},{"idx":1453,"mp":0.2},{"idx":1454.3,"mp":0.42},{"idx":1455.6,"mp":2.17},{"idx":1456.8,"mp":1.76},{"idx":1458.1,"mp":1.47},{"idx":1459.4,"mp":0.95},{"idx":1461.3,"mp":0.95},{"idx":1462.6,"mp":0.83},{"idx":1463.8,"mp":0.54},{"idx":1465.1,"mp":0.65},{"idx":1465.7,"mp":0.87},{"idx":1467,"mp":0.5},{"idx":1468.9,"mp":0.31},{"idx":1470.8,"mp":0.24},{"idx":1472.7,"mp":0.31},{"idx":1474.6,"mp":0.61},{"idx":1475.9,"mp":0.76},{"idx":1477.2,"mp":0.76},{"idx":1478.4,"mp":0.69},{"idx":1479.7,"mp":0.42},{"idx":1481.6,"mp":0.24},{"idx":1483.5,"mp":0.14},{"idx":1486.1,"mp":0.11},{"idx":1487.3,"mp":0.31},{"idx":1488.6,"mp":1.09},{"idx":1489.9,"mp":1.58},{"idx":1491.2,"mp":1.24},{"idx":1492.4,"mp":1.47},{"idx":1493.7,"mp":1.76},{"idx":1495,"mp":1.17},{"idx":1496.2,"mp":1.47},{"idx":1497.5,"mp":0.95},{"idx":1498.8,"mp":0.91},{"idx":1499.7,"mp":0.9}
    ],
    "strip": [
      {"start":475,"end":475.8,"mp":0.15},{"start":475.8,"end":479.6,"mp":0.9},{"start":479.6,"end":485.3,"mp":1.3},{"start":485.3,"end":489.1,"mp":0.65},{"start":489.1,"end":493.9,"mp":0.9},{"start":493.9,"end":501.8,"mp":0.65},{"start":501.8,"end":505,"mp":0.4},{"start":505,"end":507.6,"mp":1.3},{"start":507.6,"end":516.1,"mp":0.15},{"start":516.1,"end":519.3,"mp":0.65},{"start":519.3,"end":523.4,"mp":1.3},{"start":523.4,"end":532,"mp":0.15},{"start":532,"end":535.2,"mp":1.3},{"start":535.2,"end":543.1,"mp":0.9},{"start":543.1,"end":547.9,"mp":1.3},{"start":547.9,"end":552.7,"mp":0.65},{"start":552.7,"end":557.4,"mp":0.4},{"start":557.4,"end":560.6,"mp":1.3},{"start":560.6,"end":565.4,"mp":0.65},{"start":565.4,"end":573.3,"mp":0.15},{"start":573.3,"end":579.6,"mp":0.65},{"start":579.6,"end":587.6,"mp":0.15},{"start":587.6,"end":590.8,"mp":0.65},{"start":590.8,"end":595.5,"mp":1.3},{"start":595.5,"end":603.5,"mp":0.65},{"start":603.5,"end":609.8,"mp":0.4},{"start":609.8,"end":620.9,"mp":2.0},{"start":620.9,"end":625.7,"mp":1.3},{"start":625.7,"end":630.5,"mp":0.9},{"start":630.5,"end":641.6,"mp":0.65},{"start":641.6,"end":644.8,"mp":1.3},{"start":644.8,"end":654.3,"mp":0.15},{"start":654.3,"end":660.6,"mp":1.3},{"start":660.6,"end":664.5,"mp":1.5},{"start":664.5,"end":670.2,"mp":0.9},{"start":670.2,"end":682.9,"mp":0.65},{"start":682.9,"end":692.4,"mp":0.15},{"start":692.4,"end":695.6,"mp":1.3},{"start":695.6,"end":703.5,"mp":0.65},{"start":703.5,"end":706.7,"mp":1.3},{"start":706.7,"end":714.6,"mp":0.9},{"start":714.6,"end":719.4,"mp":1.3},{"start":719.4,"end":730.5,"mp":0.4},{"start":730.5,"end":743.2,"mp":0.15},{"start":743.2,"end":759.1,"mp":0.65},{"start":759.1,"end":762.3,"mp":1.3},{"start":762.3,"end":776.6,"mp":0.15},{"start":776.6,"end":781.3,"mp":0.65},{"start":781.3,"end":787.7,"mp":0.15},{"start":787.7,"end":797.2,"mp":1.3},{"start":797.2,"end":800.4,"mp":0.65},{"start":800.4,"end":808.3,"mp":0.9},{"start":808.3,"end":819.4,"mp":0.65},{"start":819.4,"end":827.4,"mp":0.15},{"start":827.4,"end":835.3,"mp":0.65},{"start":835.3,"end":843.3,"mp":0.9},{"start":843.3,"end":848,"mp":0.65},{"start":848,"end":854.4,"mp":1.3},{"start":854.4,"end":865.5,"mp":0.4},{"start":865.5,"end":868.7,"mp":1.3},{"start":868.7,"end":878.2,"mp":0.15},{"start":878.2,"end":895.7,"mp":0.9},{"start":895.7,"end":902,"mp":0.15},{"start":902,"end":905.2,"mp":1.3},{"start":905.2,"end":910.6,"mp":0.15},{"start":910.6,"end":911.5,"mp":4.46},{"start":911.5,"end":919.5,"mp":0.15},{"start":919.5,"end":924.3,"mp":0.9},{"start":924.3,"end":933.8,"mp":0.65},{"start":933.8,"end":946.5,"mp":0.15},{"start":946.5,"end":956,"mp":0.65},{"start":956,"end":967.1,"mp":0.4},{"start":967.1,"end":973.5,"mp":0.65},{"start":973.5,"end":978.2,"mp":0.15},{"start":978.2,"end":983,"mp":0.9},{"start":983,"end":986.2,"mp":1.3},{"start":986.2,"end":989.3,"mp":0.65},{"start":989.3,"end":992.5,"mp":1.3},{"start":992.5,"end":998.9,"mp":0.65},{"start":998.9,"end":1011.6,"mp":0.9},{"start":1011.6,"end":1014.7,"mp":1.3},{"start":1014.7,"end":1022.7,"mp":0.15},{"start":1022.7,"end":1027.4,"mp":1.3},{"start":1027.4,"end":1030.6,"mp":0.65},{"start":1030.6,"end":1037.6,"mp":0.15},{"start":1037.6,"end":1040.1,"mp":2.2},{"start":1040.1,"end":1044.9,"mp":0.9},{"start":1044.9,"end":1054.4,"mp":0.65},{"start":1054.4,"end":1057.6,"mp":1.3},{"start":1057.6,"end":1062.4,"mp":0.65},{"start":1062.4,"end":1068.7,"mp":0.9},{"start":1068.7,"end":1078.3,"mp":0.15},{"start":1078.3,"end":1086.2,"mp":0.65},{"start":1086.2,"end":1094.1,"mp":0.15},{"start":1094.1,"end":1100.5,"mp":0.9},{"start":1100.5,"end":1106.8,"mp":1.3},{"start":1106.8,"end":1110,"mp":2.0},{"start":1110,"end":1119.5,"mp":0.65},{"start":1119.5,"end":1132.2,"mp":0.4},{"start":1132.2,"end":1138.6,"mp":0.15},{"start":1138.6,"end":1143.4,"mp":1.3},{"start":1143.4,"end":1148.1,"mp":2.0},{"start":1148.1,"end":1170.4,"mp":0.9},{"start":1170.4,"end":1179.9,"mp":0.65},{"start":1179.9,"end":1186.2,"mp":1.3},{"start":1186.2,"end":1195.8,"mp":0.15},{"start":1195.8,"end":1202.1,"mp":1.3},{"start":1202.1,"end":1210.1,"mp":0.65},{"start":1210.1,"end":1230.7,"mp":0.15},{"start":1230.7,"end":1237.1,"mp":1.3},{"start":1237.1,"end":1246.6,"mp":1.9},{"start":1246.6,"end":1259.3,"mp":0.65},{"start":1259.3,"end":1272,"mp":0.15},{"start":1272,"end":1276.8,"mp":0.9},{"start":1276.8,"end":1281.5,"mp":2.0},{"start":1281.5,"end":1284.7,"mp":1.3},{"start":1284.7,"end":1297.4,"mp":0.4},{"start":1297.4,"end":1303.8,"mp":1.3},{"start":1303.8,"end":1310.1,"mp":0.15},{"start":1310.1,"end":1316.5,"mp":1.3},{"start":1316.5,"end":1322.8,"mp":2.0},{"start":1322.8,"end":1335.5,"mp":0.9},{"start":1335.5,"end":1348.2,"mp":0.15},{"start":1348.2,"end":1360.9,"mp":0.65},{"start":1360.9,"end":1367.3,"mp":0.15},{"start":1367.3,"end":1370.4,"mp":2.0},{"start":1370.4,"end":1376.8,"mp":1.3},{"start":1376.8,"end":1389.5,"mp":0.65},{"start":1389.5,"end":1408.6,"mp":0.15},{"start":1408.6,"end":1422.9,"mp":0.65},{"start":1422.9,"end":1427.6,"mp":1.3},{"start":1427.6,"end":1434,"mp":0.9},{"start":1434,"end":1453,"mp":0.15},{"start":1453,"end":1462.6,"mp":0.65},{"start":1462.6,"end":1500,"mp":0.4}
    ]
  },
  "vconcat": [
    {
      "width": 1076,
      "height": 215,
      "view": {"stroke": "#333"},
      "encoding": {
        "x": {"field": "idx", "type": "quantitative", "scale": {"domain": [475, 1500], "nice": false, "zero": false}, "axis": {"values": [600, 800, 1000, 1200, 1400], "labels": false, "title": null}},
        "y": {"field": "data", "type": "quantitative", "scale": {"domain": [-0.05, 1.05], "nice": false, "zero": false}, "axis": {"values": [0, 0.2, 0.4, 0.6, 0.8, 1.0], "format": ".1f", "labelPadding": 3, "title": "Data", "titleX": -23.5, "titleBaseline": "alphabetic"}}
      },
      "layer": [
        {"data": {"name": "input"}, "mark": {"type": "line", "color": "#1f77b4", "strokeWidth": 1.4, "clip": true}},
        {"data": {"name": "discord"}, "mark": {"type": "line", "color": "#f50a23", "strokeWidth": 4.5, "strokeCap": "butt"}},
        {"data": {"values": [{"idx": 479.9, "data": 0.013, "label": "Input"}]}, "mark": {"type": "text", "font": "Lato", "fontSize": 18, "align": "left", "baseline": "alphabetic", "color": "#111"}, "encoding": {"text": {"field": "label"}}}
      ]
    },
    {
      "width": 1076,
      "height": 43,
      "view": {"stroke": "#555"},
      "data": {"name": "strip"},
      "mark": {"type": "rect"},
      "encoding": {
        "x": {"field": "start", "type": "quantitative", "scale": {"domain": [475, 1500], "nice": false, "zero": false}, "axis": {"values": [589, 776, 998, 1185, 1372], "labels": false, "title": null}},
        "x2": {"field": "end"},
        "color": {"field": "mp", "type": "quantitative", "legend": null, "scale": {"domain": [0, 0.5575, 1.115, 1.6725, 2.23, 2.7875, 3.345, 3.9025, 4.46], "range": ["#3b4cc0", "#6282ea", "#8db0fe", "#b8d0f9", "#dddddd", "#f5c4ac", "#f49a7b", "#dc5d4a", "#b40426"], "interpolate": "rgb"}}
      }
    },
    {
      "width": 1076,
      "height": 214,
      "view": {"stroke": "#777"},
      "title": {"text": "Window Size 10", "anchor": "middle"},
      "encoding": {
        "x": {"field": "idx", "type": "quantitative", "scale": {"domain": [475, 1500], "nice": false, "zero": false}, "axis": {"values": [600, 800, 1000, 1200, 1400], "format": "d", "title": null}},
        "y": {"field": "mp", "type": "quantitative", "scale": {"domain": [-0.12, 4.655], "nice": false, "zero": false}, "axis": {"values": [0, 1, 2, 3, 4], "format": "d", "labelPadding": 3, "title": "Matrix Profile", "titleX": -15.8, "titleBaseline": "alphabetic"}}
      },
      "layer": [
        {"data": {"name": "mp"}, "mark": {"type": "line", "color": "#1f77b4", "strokeWidth": 1.4, "clip": true}},
        {"data": {"values": [{"idx": 945, "mp": 4.46}]}, "mark": {"type": "point", "filled": true, "color": "#f50a23", "opacity": 1, "size": 64, "shape": "M0,-1L0.2245,-0.309L0.9511,-0.309L0.3633,0.118L0.5878,0.809L0,0.382L-0.5878,0.809L-0.3633,0.118L-0.9511,-0.309L-0.2245,-0.309Z"}},
        {"data": {"values": [{"idx": 1024.3, "mp": 4.134, "idx2": 960.1, "mp2": 4.351}]}, "mark": {"type": "rule", "color": "#f50a23", "strokeWidth": 2.5}, "encoding": {"x2": {"field": "idx2"}, "y2": {"field": "mp2"}}},
        {"data": {"values": [{"idx": 960.1, "mp": 4.351}]}, "mark": {"type": "point", "filled": true, "color": "#f50a23", "opacity": 1, "size": 150, "angle": 8.2, "shape": "M-1,0L1,-0.75L1,0.75Z"}},
        {"data": {"values": [{"idx": 966.4, "mp": 3.716, "label": "Maximum value in matrix profile indicates discord"}]}, "mark": {"type": "text", "font": "Lato", "fontSize": 17.8, "align": "left", "baseline": "alphabetic", "color": "#f50a23"}, "encoding": {"text": {"field": "label"}}},
        {"data": {"values": [{"idx": 479.1, "mp": 4.125, "label": "Matrix Profile"}]}, "mark": {"type": "text", "font": "Lato", "fontSize": 18, "align": "left", "baseline": "alphabetic", "color": "#111"}, "encoding": {"text": {"field": "label"}}}
      ]
    }
  ],
  "resolve": {"scale": {"x": "independent", "color": "independent"}}
}
